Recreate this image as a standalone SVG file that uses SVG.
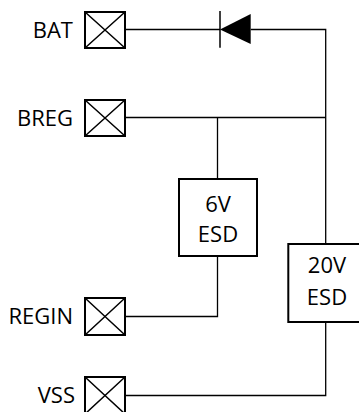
<svg xmlns="http://www.w3.org/2000/svg" width="359" height="412" viewBox="0 0 359 412">
<style>
.pad{fill:#fff;stroke:#000;stroke-width:2}
.x{stroke:#000;stroke-width:1.5}
.box{fill:#fff;stroke:#000;stroke-width:2}
.wire{fill:none;stroke:#000;stroke-width:1.3}
text{font-family:"Open Sans","Liberation Sans",sans-serif;font-size:22px;fill:#000}
.lbl{text-anchor:end}
.mid{text-anchor:middle}
</style>
<rect width="359" height="412" fill="#fff"/>
<g id="connectors">
<path class="wire" d="M125 29.5H220M250.7 29.5H325.7V244"/>
<path class="wire" d="M125 117.5H325.7M217.5 117.5V179"/>
<path class="wire" d="M217.5 256V316.5H125"/>
<path class="wire" d="M325.7 322V395.5H125"/>
</g>
<g id="diode">
<path d="M220 11V47.7" stroke="#000" stroke-width="1.5"/>
<polygon points="220,29.5 250.7,14 250.7,44" fill="#000"/>
</g>
<g id="BAT">
<rect class="pad" x="85" y="12" width="40" height="36"/>
<path class="x" d="M85 12L125 48M125 12L85 48"/>
<text class="lbl" x="73" y="37.8">BAT</text>
</g>
<g id="BREG">
<rect class="pad" x="85" y="100" width="40" height="36"/>
<path class="x" d="M85 100L125 136M125 100L85 136"/>
<text class="lbl" x="73" y="125.8">BREG</text>
</g>
<g id="REGIN">
<rect class="pad" x="85" y="298" width="40" height="37"/>
<path class="x" d="M85 298L125 335M125 298L85 335"/>
<text class="lbl" x="73" y="324.3">REGIN</text>
</g>
<g id="VSS">
<rect class="pad" x="85" y="377" width="40" height="37"/>
<path class="x" d="M85 377L125 414M125 377L85 414"/>
<text class="lbl" x="75" y="403.3">VSS</text>
</g>
<g id="esd6">
<rect class="box" x="179" y="179" width="78" height="77"/>
<text class="mid" x="218" y="211.7">6V</text>
<text class="mid" x="218" y="241.7">ESD</text>
</g>
<g id="esd20">
<rect class="box" x="288.3" y="244" width="78" height="78"/>
<text class="mid" x="327" y="273.3">20V</text>
<text class="mid" x="327" y="305">ESD</text>
</g>
</svg>
